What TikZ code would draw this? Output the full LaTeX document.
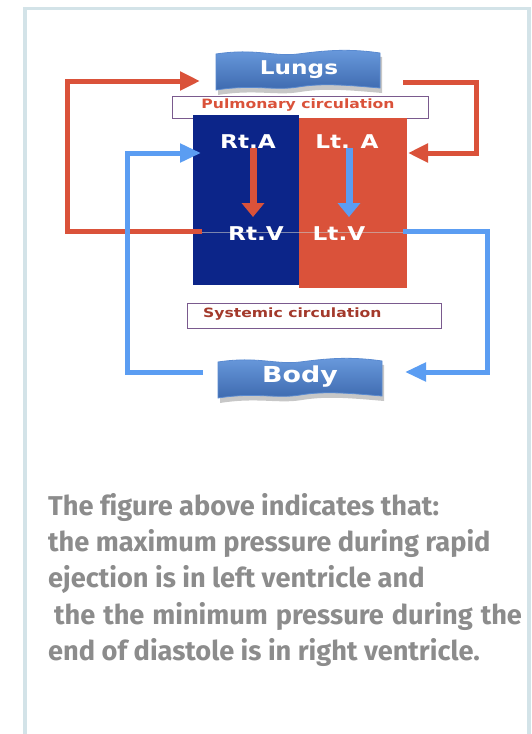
\documentclass[tikz,border=0pt]{standalone}
\usepackage{fontspec}
\newfontfamily\dfont[FakeStretch=1.22]{DejaVu Sans}
\newfontfamily\pfont[Ligatures=NoCommon]{Fira Sans}
\usetikzlibrary{arrows.meta}
\definecolor{framecol}{HTML}{D3E3E8}
\definecolor{heartblue}{HTML}{0C2589}
\definecolor{heartred}{HTML}{DA523A}
\definecolor{flowblue}{HTML}{5B9DF2}
\definecolor{flowred}{HTML}{DA523A}
\definecolor{boxpurple}{HTML}{7A5A8E}
\definecolor{systext}{HTML}{A3392B}
\definecolor{pultext}{HTML}{DA523A}
\definecolor{paragrey}{HTML}{8C8C8C}
\definecolor{bannerlight}{HTML}{6A9BDE}
\definecolor{bannerdark}{HTML}{3D69AE}
\definecolor{bannerline}{HTML}{5A8AD0}
\newcommand\wavybanner[2]{%
  \begin{scope}[shift={(#1,#2)}]
    \fill[black,opacity=0.22] (2,7) .. controls (42,1) and (60,10) .. (84,7) .. controls (108,4) and (132,1) .. (166,6)
      -- (166,42) .. controls (132,39) and (108,37) .. (84,41) .. controls (60,45) and (40,38) .. (2,44) -- cycle;
    \shade[top color=bannerlight, bottom color=bannerdark, draw=bannerline, line width=0.8pt]
      (0,3) .. controls (40,-3) and (58,6) .. (82,3) .. controls (106,0) and (130,-3) .. (164,2)
      -- (164,37) .. controls (130,34) and (106,32) .. (82,36) .. controls (58,40) and (38,33) .. (0,39) -- cycle;
  \end{scope}}
\tikzset{
  flowline/.style={line width=5pt},
  redflow/.style={flowline, draw=flowred, -{Triangle[length=20pt,width=18pt]}},
  blueflow/.style={flowline, draw=flowblue, -{Triangle[length=21pt,width=18pt]}},
  innerarrow/.style={line width=7pt, -{Triangle[length=14pt,width=22pt]}},
  chamber/.style={anchor=north west, inner sep=0pt},
  chamberlabel/.style={text=white, font=\dfont\bfseries\fontsize{19}{22}\selectfont, inner sep=0pt},
  bannerlabel/.style={text=white, inner sep=0pt},
  circbox/.style={draw=boxpurple, line width=1.4pt, fill=white, anchor=north west, inner sep=0pt},
  circtext/.style={font=\dfont\bfseries\fontsize{12.8}{15}\selectfont, inner sep=0pt},
  paraline/.style={anchor=base west, inner sep=0pt, text=paragrey, font=\pfont\bfseries\fontsize{27.2}{32}\selectfont},
}
\begin{document}
\begin{tikzpicture}[x=1pt,y=-1pt]
\useasboundingbox (0,0) rectangle (532,734);
\fill[white] (0,0) rectangle (532,734);
% frame
\draw[framecol, line width=3.5pt] (25,735) -- (25,8.5) -- (529,8.5) -- (529,735);

% circulation boxes
\node[circbox, minimum width=256pt, minimum height=22pt] (pulbox) at (172,96) {};
\node[circtext, text=pultext] (pultxt) at (298,105) {Pulmonary circulation};
\node[circbox, minimum width=254pt, minimum height=25pt] (sysbox) at (187,303) {};
\node[circtext, text=systext, anchor=west] (systxt) at (203,314.5) {Systemic circulation};

% heart chambers
\node[chamber, fill=heartblue, minimum width=106pt, minimum height=170pt] (right) at (193,115) {};
\node[chamber, fill=heartred, minimum width=108pt, minimum height=170pt] (left) at (299,118) {};
\draw[white!55!gray, opacity=0.6, line width=0.6pt] (right.west |- 0,232) coordinate (midw) -- (left.east |- 0,232) coordinate (mide);

\node[chamberlabel] (rta) at (248,142) {Rt.A};
\node[chamberlabel] (lta) at (347,142) {Lt. A};
\node[chamberlabel] (rtv) at (256,234) {Rt.V};
\node[chamberlabel] (ltv) at (339,234) {Lt.V};

\coordinate (rain) at (253,148);
\coordinate (rvin) at (253,217);
\coordinate (lain) at (349,148);
\coordinate (lvin) at (349,217);
\draw[innerarrow, draw=flowred] (rain) -- (rvin);
\draw[innerarrow, draw=flowblue] (lain) -- (lvin);

% banners
\wavybanner{216}{51}
\node[bannerlabel, font=\dfont\bfseries\fontsize{19}{22}\selectfont] (lungs) at (299,70) {Lungs};
\wavybanner{218}{359}
\node[bannerlabel, font=\dfont\bfseries\fontsize{22}{26}\selectfont] (body) at (300,377) {Body};

% loops
\coordinate (rvout) at (202,231);
\coordinate (lcorner) at (67,81);
\coordinate (lungin) at (200,81);
\draw[redflow] (rvout) -| (lcorner) -- (lungin);

\coordinate (lungout) at (403,82);
\coordinate (rcorner) at (476,153);
\coordinate (lain2) at (408,153);
\draw[redflow] (lungout) -| (rcorner) -- (lain2);

\coordinate (bodyout) at (203,372);
\coordinate (bcorner) at (127,153);
\coordinate (rain2) at (201,153);
\draw[blueflow] (bodyout) -| (bcorner) -- (rain2);

\coordinate (lvout) at (403,231);
\coordinate (scorner) at (487,372);
\coordinate (bodyin) at (405,372);
\draw[blueflow] (lvout) -| (scorner) -- (bodyin);

% paragraph
\node[paraline] (l1) at (48,515) {The figure above indicates that:};
\node[paraline] (l2) at (48,551) {the maximum pressure during rapid};
\node[paraline] (l3) at (48,587) {ejection is in left ventricle and};
\node[paraline] (l4) at (54,624) {\spaceskip=0.29em\relax the the minimum pressure during the};
\node[paraline] (l5) at (48,660) {end of diastole is in right ventricle.};
\end{tikzpicture}
\end{document}
